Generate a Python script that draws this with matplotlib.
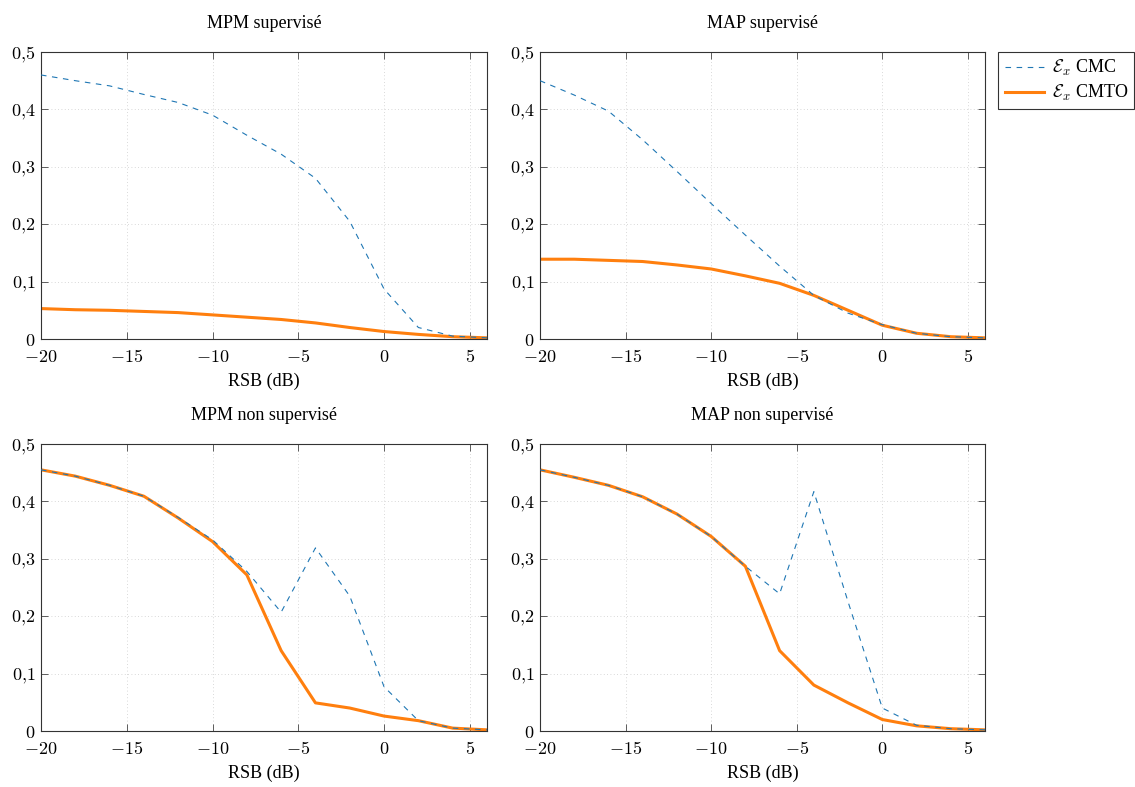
import matplotlib
matplotlib.use("Agg")
import matplotlib.pyplot as plt
from matplotlib.ticker import FuncFormatter

plt.rcParams['font.family'] = ['Liberation Serif', 'DejaVu Serif']
plt.rcParams['mathtext.fontset'] = 'cm'

rsb = [-20, -18, -16, -14, -12, -10, -8, -6, -4, -2, 0, 2, 4, 6]

titles = ["MPM supervisé", "MAP supervisé", "MPM non supervisé", "MAP non supervisé"]

mpm_sup_cmc = [0.460, 0.450, 0.441, 0.426, 0.412, 0.390, 0.355, 0.322, 0.280, 0.205, 0.087, 0.020, 0.005, 0.002]
mpm_sup_cmto = [0.053, 0.051, 0.050, 0.048, 0.046, 0.042, 0.038, 0.034, 0.028, 0.020, 0.013, 0.008, 0.004, 0.002]

map_sup_cmc = [0.450, 0.425, 0.397, 0.347, 0.292, 0.236, 0.181, 0.127, 0.076, 0.045, 0.025, 0.010, 0.004, 0.002]
map_sup_cmto = [0.139, 0.139, 0.137, 0.135, 0.129, 0.122, 0.110, 0.097, 0.076, 0.050, 0.024, 0.010, 0.004, 0.002]

mpm_nsup_cmc = [0.455, 0.444, 0.428, 0.409, 0.372, 0.333, 0.278, 0.207, 0.319, 0.235, 0.077, 0.018, 0.005, 0.002]
mpm_nsup_cmto = [0.455, 0.444, 0.428, 0.409, 0.371, 0.330, 0.272, 0.140, 0.049, 0.040, 0.026, 0.018, 0.005, 0.002]

map_nsup_cmc = [0.455, 0.442, 0.428, 0.408, 0.378, 0.339, 0.287, 0.239, 0.417, 0.225, 0.040, 0.010, 0.004, 0.002]
map_nsup_cmto = [0.455, 0.442, 0.428, 0.408, 0.378, 0.339, 0.287, 0.140, 0.080, 0.049, 0.020, 0.009, 0.004, 0.002]

cmc_series = [mpm_sup_cmc, map_sup_cmc, mpm_nsup_cmc, map_nsup_cmc]
cmto_series = [mpm_sup_cmto, map_sup_cmto, mpm_nsup_cmto, map_nsup_cmto]

xticks = [-20, -15, -10, -5, 0, 5]
yticks = [0, 0.1, 0.2, 0.3, 0.4, 0.5]

W, H = 1135, 787
fig = plt.figure(figsize=(W / 100, H / 100), dpi=100)

boxes = [(41, 52, 487, 339), (540, 52, 985, 339), (41, 444, 487, 731), (540, 444, 985, 731)]

def xfmt(v, pos):
    if abs(v) < 1e-9:
        return r'$0$'
    return r'$%d$' % int(round(v))

def yfmt(v, pos):
    if abs(v) < 1e-9:
        return r'$0$'
    s = ('%.1f' % v).replace('.', '{,}')
    return r'$%s$' % s

axes = []
for i, (l, t, r, b) in enumerate(boxes):
    ax = fig.add_axes([l / W, 1 - b / H, (r - l) / W, (b - t) / H])
    axes.append(ax)
    ax.plot(rsb, cmc_series[i], color='#1f77b4', lw=0.8, linestyle=(0, (5, 5)),
            label=r'$\mathcal{E}_x$ CMC', zorder=3)
    ax.plot(rsb, cmto_series[i], color='#ff7f0e', lw=2.2,
            label=r'$\mathcal{E}_x$ CMTO', zorder=2)
    ax.set_xlim(-20, 6)
    ax.set_ylim(0, 0.5)
    ax.set_xticks(xticks)
    ax.set_yticks(yticks)
    ax.xaxis.set_major_formatter(FuncFormatter(xfmt))
    ax.yaxis.set_major_formatter(FuncFormatter(yfmt))
    ax.tick_params(direction='in', top=True, right=True, length=5, width=0.6,
                   labelsize=13, color='#444444')
    ax.tick_params(axis='x', pad=7)
    ax.tick_params(axis='y', pad=4)
    ax.grid(True, linestyle=(0, (1, 3)), color='#cccccc', lw=0.6)
    for s in ax.spines.values():
        s.set_linewidth(0.8)
        s.set_color('#333333')
    ax.set_title(titles[i], fontsize=13, pad=17)
    ax.set_xlabel('RSB (dB)', fontsize=13, labelpad=5)

leg = axes[1].legend(loc='upper left', bbox_to_anchor=(1.03, 1.0), fontsize=13,
                     frameon=True, fancybox=False, edgecolor='black',
                     handlelength=2.2, handletextpad=0.4, borderpad=0.35,
                     labelspacing=0.25, borderaxespad=0)
leg.get_frame().set_linewidth(0.8)

fig.savefig('out.png', dpi=100)
